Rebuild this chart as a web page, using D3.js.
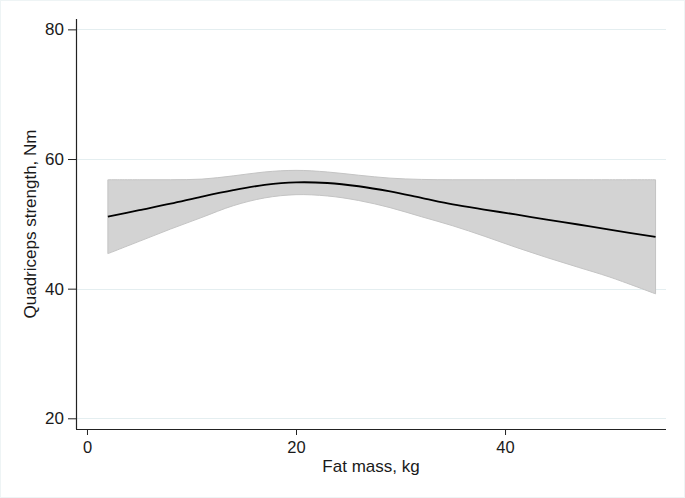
<!DOCTYPE html>
<html>
<head>
<meta charset="utf-8">
<script src="https://cdn.jsdelivr.net/npm/d3@7"></script>
<style>
  html, body { margin: 0; padding: 0; background: #ffffff; }
  svg { display: block; }
  text { font-family: "Liberation Sans", Arial, sans-serif; fill: #1a1a1a; }
</style>
</head>
<body>
<svg id="chart" width="685" height="498"></svg>
<script>
const fatMass = [2, 5, 8, 11, 14, 17, 20, 23, 26, 29, 32, 35, 38, 41, 44, 47, 50, 54.4];
const strengthFit = [51.1, 52.1, 53.1, 54.2, 55.2, 56.0, 56.4, 56.3, 55.8, 55.0, 54.0, 53.0, 52.2, 51.45, 50.65, 49.9, 49.1, 48.0];
const ciUpper = [56.8, 56.8, 56.8, 56.9, 57.4, 58.0, 58.25, 58.0, 57.5, 57.05, 56.85, 56.8, 56.8, 56.8, 56.8, 56.8, 56.8, 56.8];
const ciLower = [45.4, 47.3, 49.2, 51.0, 52.8, 54.0, 54.5, 54.3, 53.6, 52.5, 51.1, 49.7, 48.1, 46.4, 44.8, 43.3, 41.8, 39.2];
const xTicks = [0, 20, 40];
const yTicks = [20, 40, 60, 80];
const xTitle = "Fat mass, kg";
const yTitle = "Quadriceps strength, Nm";

(function () {
const svg = d3.select("#chart");
const W = 685, H = 498;
const mLeft = 76, mRight = 666, mTop = 19, mBottom = 429;

svg.append("rect").attr("x", 0.5).attr("y", 0.5).attr("width", W - 1).attr("height", H - 1)
  .attr("fill", "#ffffff").attr("stroke", "#eef4f5").attr("stroke-width", 1);

const x = d3.scaleLinear().domain([-1.05, 55.4]).range([mLeft, mRight]);
const y = d3.scaleLinear().domain([18.35, 81.6]).range([mBottom, mTop]);

// gridlines
svg.append("g").selectAll("line").data(yTicks).join("line")
  .attr("x1", mLeft).attr("x2", mRight)
  .attr("y1", d => Math.round(y(d)) + 0.5).attr("y2", d => Math.round(y(d)) + 0.5)
  .attr("stroke", "#e4eef0").attr("stroke-width", 1);

const data = fatMass.map((v, i) => ({ x: v, fit: strengthFit[i], lo: ciLower[i], hi: ciUpper[i] }));

const area = d3.area().x(d => x(d.x)).y0(d => y(d.lo)).y1(d => y(d.hi)).curve(d3.curveCatmullRom.alpha(0.5));
svg.append("path").datum(data).attr("d", area)
  .attr("fill", "#d3d3d3").attr("stroke", "#c4c4c4").attr("stroke-width", 1);

const line = d3.line().x(d => x(d.x)).y(d => y(d.fit)).curve(d3.curveCatmullRom.alpha(0.5));
svg.append("path").datum(data).attr("d", line)
  .attr("fill", "none").attr("stroke", "#000000").attr("stroke-width", 1.8);

// axes
const xAxis = d3.axisBottom(x).tickValues(xTicks).tickSize(6).tickPadding(6).tickFormat(d3.format("d"));
const gx = svg.append("g").attr("transform", `translate(0,${mBottom})`).call(xAxis);
gx.select(".domain").attr("d", `M${mLeft},0.5H${mRight}`).attr("stroke", "#222").attr("stroke-width", 1.2);
gx.selectAll(".tick line").attr("stroke", "#222");
gx.selectAll(".tick text").attr("font-size", 16.5).attr("font-family", "Liberation Sans, Arial, sans-serif").attr("fill", "#1a1a1a");

const yAxis = d3.axisLeft(y).tickValues(yTicks).tickSize(8).tickPadding(4).tickFormat(d3.format("d"));
const gy = svg.append("g").attr("transform", `translate(${mLeft},0)`).call(yAxis);
gy.select(".domain").attr("d", `M0.5,${mTop}V${mBottom}`).attr("stroke", "#222").attr("stroke-width", 1.2);
gy.selectAll(".tick line").attr("stroke", "#222");
gy.selectAll(".tick text").attr("font-size", 17).attr("font-family", "Liberation Sans, Arial, sans-serif").attr("fill", "#1a1a1a");

svg.append("text").attr("x", (mLeft + mRight) / 2).attr("y", 472)
  .attr("text-anchor", "middle").attr("font-size", 17).text(xTitle);

svg.append("text").attr("transform", `translate(36,${(mTop + mBottom) / 2}) rotate(-90)`)
  .attr("text-anchor", "middle").attr("font-size", 17).text(yTitle);
})();
</script>
</body>
</html>
